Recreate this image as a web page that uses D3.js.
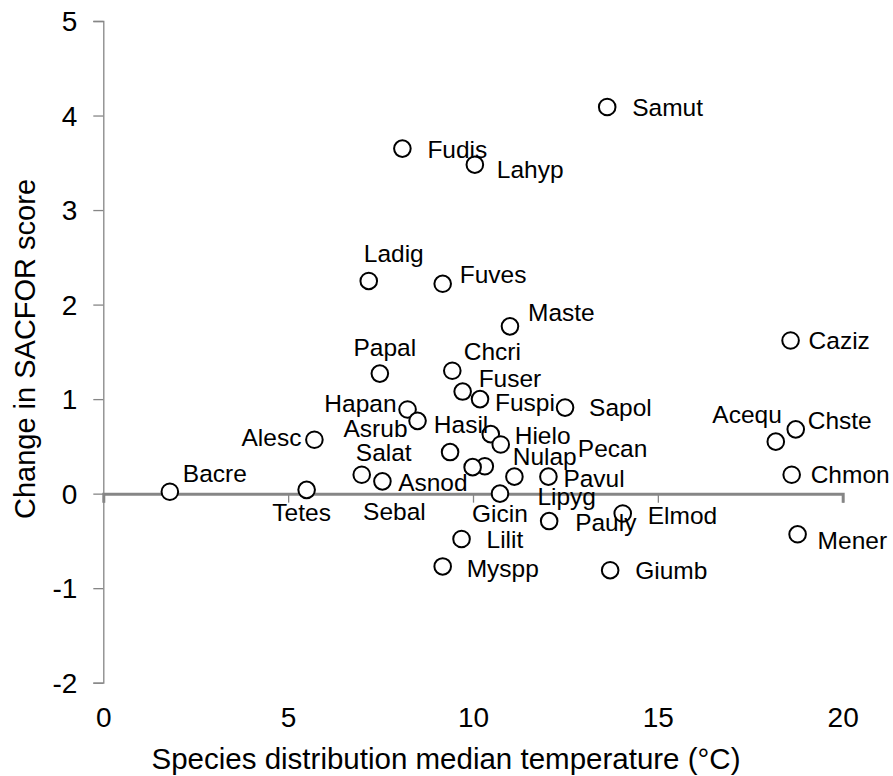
<!DOCTYPE html>
<html>
<head>
<meta charset="utf-8">
<script src="https://cdn.jsdelivr.net/npm/d3@7/dist/d3.min.js"></script>
<style>
  body { margin: 0; background: #fff; }
  text { font-family: "Liberation Sans", Arial, sans-serif; fill: #000; }
</style>
</head>
<body>
<svg id="chart" width="893" height="776"></svg>
<script>
// Species codes, their distribution median temperature (°C) and change in SACFOR score
const species = ["Samut","Fudis","Lahyp","Ladig","Fuves","Maste","Caziz","Papal","Chcri","Fuser",
  "Fuspi","Sapol","Hapan","Asrub","Hasil","Hielo","Nulap","Lipyg","Pecan","Asnod",
  "Salat","Sebal","Gicin","Alesc","Bacre","Tetes","Pavul","Acequ","Chste","Chmon",
  "Mener","Elmod","Giumb","Pauly","Lilit","Myspp"];
const medianTemp = [13.63, 8.09, 10.05, 7.18, 9.18, 11.0, 18.59, 7.48, 9.44, 9.72,
  10.19, 12.49, 8.23, 8.50, 9.38, 10.48, 10.75, 11.12, 10.32, 9.99,
  6.99, 7.55, 10.73, 5.71, 1.80, 5.50, 12.04, 18.19, 18.73, 18.62,
  18.78, 14.05, 13.71, 12.06, 9.69, 9.18];
const sacforChange = [4.09, 3.65, 3.48, 2.25, 2.22, 1.77, 1.62, 1.27, 1.30, 1.08,
  1.00, 0.91, 0.89, 0.77, 0.44, 0.63, 0.52, 0.18, 0.29, 0.28,
  0.20, 0.13, 0.00, 0.57, 0.02, 0.04, 0.18, 0.55, 0.68, 0.20,
  -0.43, -0.21, -0.81, -0.29, -0.48, -0.77];
const xTicks = [0, 5, 10, 15, 20];
const yTicks = [-2, -1, 0, 1, 2, 3, 4, 5];

// Where each name sits relative to its marker: [dx, dy, text-anchor]
const labelPlacement = [
  [25, 0, "start"], [25, 1, "start"], [22, 5, "start"], [25, -28, "middle"], [17, -9, "start"],
  [18, -14, "start"], [18, 0, "start"], [5, -26, "middle"], [40, -19, "middle"], [16, -13, "start"],
  [15, 3, "start"], [24, 0, "start"], [-11, -6, "end"], [-10, 8, "end"], [11, -28, "middle"],
  [24, 1, "start"], [12, 12, "start"], [23, 20, "start"], [93, -18, "start"], [-5, 15, "end"],
  [22, -22, "middle"], [12, 30, "middle"], [0, 20, "middle"], [-13, -2, "end"], [13, -18, "start"],
  [-5, 23, "middle"], [15, 2, "start"], [6, -27, "end"], [12, -9, "start"], [19, 0, "start"],
  [20, 6, "start"], [25, 2, "start"], [25, 0, "start"], [26, 1, "start"], [25, 0, "start"],
  [24, 2, "start"]
];

const points = species.map((name, i) => ({
  name, x: medianTemp[i], y: sacforChange[i], place: labelPlacement[i]
}));

const svg = d3.select("#chart");
const axisColor = "#868686";
const plainNumber = d => String(d);

const x = d3.scaleLinear().domain([0, 20]).range([103.3, 842.7]);
const y = d3.scaleLinear().domain([-2, 5]).range([682.7, 21]);

// Vertical axis with outward ticks
const yAxis = svg.append("g")
  .attr("transform", `translate(${x(0)},0)`)
  .call(d3.axisLeft(y).tickValues(yTicks).tickSize(10).tickFormat(""));
yAxis.select(".domain").attr("stroke", axisColor).attr("stroke-width", 1.3);
yAxis.selectAll(".tick line").attr("stroke", axisColor).attr("stroke-width", 1.3);

// Y tick labels
svg.append("g")
  .attr("transform", `translate(${x(0) - 26},0)`)
  .call(d3.axisLeft(y).tickValues(yTicks).tickSize(0).tickPadding(0).tickFormat(plainNumber))
  .call(g => g.select(".domain").remove())
  .selectAll("text")
  .attr("font-size", 28)
  .attr("fill", "#000")
  .attr("dy", "0.35em");

// Horizontal axis crossing at zero
const xAxis = svg.append("g")
  .attr("transform", `translate(0,${y(0)})`)
  .call(d3.axisBottom(x).tickValues(xTicks).tickSize(9).tickSizeOuter(9).tickFormat(""));
xAxis.select(".domain").attr("stroke", axisColor).attr("stroke-width", 3);
xAxis.selectAll(".tick line").attr("stroke", axisColor).attr("stroke-width", 1.3);

// X tick labels along the bottom
svg.append("g")
  .attr("transform", `translate(0,${y(-2)})`)
  .call(d3.axisBottom(x).tickValues(xTicks).tickSize(0).tickPadding(0).tickFormat(plainNumber))
  .call(g => g.select(".domain").remove())
  .selectAll("text")
  .attr("font-size", 28)
  .attr("fill", "#000")
  .attr("dy", "1.6em");

// Axis titles
svg.append("text")
  .attr("x", 446)
  .attr("y", 769)
  .attr("text-anchor", "middle")
  .attr("font-size", 29.5)
  .text("Species distribution median temperature (°C)");

svg.append("text")
  .attr("transform", `translate(35,349) rotate(-90)`)
  .attr("text-anchor", "middle")
  .attr("font-size", 29)
  .text("Change in SACFOR score");

// Markers
svg.append("g").selectAll("circle")
  .data(points)
  .join("circle")
  .attr("cx", d => x(d.x))
  .attr("cy", d => y(d.y))
  .attr("r", 8.3)
  .attr("fill", "#fff")
  .attr("stroke", "#000")
  .attr("stroke-width", 2);

// Species names
svg.append("g").selectAll("text")
  .data(points)
  .join("text")
  .attr("x", d => x(d.x) + d.place[0])
  .attr("y", d => y(d.y) + d.place[1])
  .attr("dy", "0.35em")
  .attr("text-anchor", d => d.place[2])
  .attr("font-size", 24.5)
  .text(d => d.name);
</script>
</body>
</html>
